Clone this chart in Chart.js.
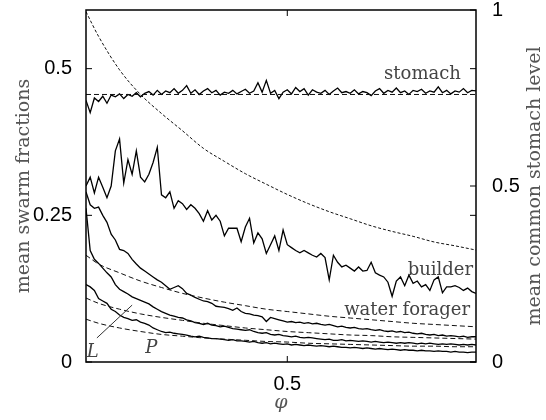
<!DOCTYPE HTML>
<html>

<head>
  <title>swarm fractions</title>
  <script src="https://cdn.jsdelivr.net/npm/chart.js"></script>
  <style>
    body { margin: 0; background: #fff; }
    #box { width: 546px; height: 420px; }
  </style>
</head>

<body>
  <div id="box"><canvas id="myChart"></canvas></div>

  <script type="text/javascript">

    // phi grid of the simulation runs
    var phi = [0.02, 0.03, 0.04, 0.05, 0.06, 0.07, 0.08, 0.09, 0.10, 0.11,
      0.12, 0.13, 0.14, 0.15, 0.16, 0.17, 0.18, 0.19, 0.20, 0.21,
      0.22, 0.23, 0.24, 0.25, 0.26, 0.27, 0.28, 0.29, 0.30, 0.31,
      0.32, 0.33, 0.34, 0.35, 0.36, 0.37, 0.38, 0.39, 0.40, 0.41,
      0.42, 0.43, 0.44, 0.45, 0.46, 0.47, 0.48, 0.49, 0.50, 0.51,
      0.52, 0.53, 0.54, 0.55, 0.56, 0.57, 0.58, 0.59, 0.60, 0.61,
      0.62, 0.63, 0.64, 0.65, 0.66, 0.67, 0.68, 0.69, 0.70, 0.71,
      0.72, 0.73, 0.74, 0.75, 0.76, 0.77, 0.78, 0.79, 0.80, 0.81,
      0.82, 0.83, 0.84, 0.85, 0.86, 0.87, 0.88, 0.89, 0.90, 0.91,
      0.92, 0.93, 0.94, 0.95];

    var stomach = [0.446, 0.425, 0.450, 0.444, 0.453, 0.441, 0.455, 0.452, 0.457, 0.449,
      0.456, 0.453, 0.459, 0.452, 0.458, 0.461, 0.455, 0.463, 0.456, 0.462,
      0.459, 0.466, 0.458, 0.463, 0.471, 0.458, 0.464, 0.456, 0.462, 0.466,
      0.459, 0.463, 0.455, 0.460, 0.458, 0.463, 0.457, 0.461, 0.465, 0.458,
      0.462, 0.476, 0.460, 0.480, 0.458, 0.463, 0.449, 0.460, 0.464, 0.457,
      0.468, 0.461, 0.466, 0.455, 0.464, 0.460, 0.458, 0.463, 0.456, 0.462,
      0.467, 0.459, 0.461, 0.458, 0.464, 0.457, 0.461, 0.459, 0.454, 0.462,
      0.466, 0.458, 0.463, 0.460, 0.467, 0.459, 0.462, 0.456, 0.463, 0.461,
      0.465, 0.458, 0.462, 0.460, 0.469, 0.459, 0.463, 0.457, 0.462, 0.460,
      0.466, 0.459, 0.463, 0.462];

    var builder = [0.300, 0.315, 0.288, 0.315, 0.298, 0.280, 0.300, 0.360, 0.380, 0.305,
      0.345, 0.320, 0.360, 0.315, 0.307, 0.320, 0.340, 0.366, 0.285, 0.280,
      0.290, 0.262, 0.275, 0.270, 0.260, 0.268, 0.262, 0.253, 0.240, 0.258,
      0.242, 0.250, 0.240, 0.215, 0.228, 0.228, 0.228, 0.205, 0.230, 0.245,
      0.203, 0.220, 0.210, 0.185, 0.200, 0.215, 0.190, 0.225, 0.200, 0.195,
      0.190, 0.186, 0.190, 0.186, 0.182, 0.179, 0.185, 0.178, 0.140, 0.182,
      0.170, 0.162, 0.165, 0.160, 0.155, 0.162, 0.155, 0.156, 0.170, 0.152,
      0.148, 0.145, 0.136, 0.112, 0.138, 0.145, 0.130, 0.148, 0.134, 0.138,
      0.128, 0.132, 0.122, 0.140, 0.145, 0.118, 0.128, 0.128, 0.130, 0.127,
      0.122, 0.126, 0.120, 0.117];

    var waterForager = [0.290, 0.268, 0.262, 0.264, 0.250, 0.238, 0.218, 0.208, 0.192, 0.190,
      0.185, 0.175, 0.167, 0.160, 0.155, 0.150, 0.145, 0.140, 0.136, 0.130,
      0.124, 0.127, 0.130, 0.125, 0.117, 0.114, 0.110, 0.107, 0.104, 0.103,
      0.100, 0.095, 0.094, 0.093, 0.091, 0.088, 0.092, 0.086, 0.083, 0.082,
      0.080, 0.079, 0.077, 0.069, 0.076, 0.074, 0.072, 0.070, 0.068, 0.069,
      0.067, 0.068, 0.066, 0.067, 0.065, 0.066, 0.064, 0.063, 0.064, 0.062,
      0.060, 0.061, 0.059, 0.058, 0.059, 0.057, 0.056, 0.057, 0.055, 0.054,
      0.055, 0.053, 0.052, 0.053, 0.051, 0.052, 0.050, 0.051, 0.049, 0.048,
      0.049, 0.047, 0.046, 0.047, 0.045, 0.046, 0.044, 0.045, 0.044, 0.043,
      0.044, 0.042, 0.043, 0.043];

    var fracL = [0.262, 0.190, 0.175, 0.168, 0.160, 0.152, 0.145, 0.132, 0.124, 0.120,
      0.116, 0.111, 0.108, 0.105, 0.102, 0.099, 0.094, 0.090, 0.086, 0.083,
      0.080, 0.078, 0.076, 0.075, 0.072, 0.070, 0.067, 0.066, 0.064, 0.066,
      0.063, 0.062, 0.060, 0.061, 0.059, 0.057, 0.056, 0.055, 0.054, 0.055,
      0.052, 0.050, 0.049, 0.050, 0.047, 0.046, 0.047, 0.045, 0.044, 0.043,
      0.044, 0.042, 0.041, 0.042, 0.041, 0.040, 0.039, 0.038, 0.039, 0.037,
      0.037, 0.038, 0.036, 0.037, 0.036, 0.035, 0.036, 0.035, 0.034, 0.035,
      0.034, 0.033, 0.034, 0.033, 0.032, 0.033, 0.032, 0.033, 0.032, 0.031,
      0.032, 0.031, 0.032, 0.031, 0.030, 0.031, 0.030, 0.031, 0.030, 0.029,
      0.030, 0.029, 0.030, 0.029];

    var fracP = [0.132, 0.128, 0.122, 0.108, 0.104, 0.100, 0.090, 0.086, 0.080, 0.076,
      0.074, 0.071, 0.072, 0.068, 0.066, 0.063, 0.058, 0.055, 0.052, 0.050,
      0.051, 0.049, 0.048, 0.047, 0.046, 0.044, 0.043, 0.044, 0.042, 0.041,
      0.040, 0.040, 0.039, 0.038, 0.037, 0.038, 0.036, 0.036, 0.035, 0.034,
      0.035, 0.033, 0.032, 0.033, 0.031, 0.032, 0.031, 0.030, 0.031, 0.029,
      0.030, 0.029, 0.028, 0.029, 0.028, 0.027, 0.028, 0.027, 0.026, 0.027,
      0.026, 0.025, 0.025, 0.024, 0.025, 0.024, 0.023, 0.024, 0.023, 0.022,
      0.023, 0.022, 0.021, 0.022, 0.021, 0.020, 0.021, 0.020, 0.020, 0.019,
      0.020, 0.019, 0.019, 0.018, 0.019, 0.018, 0.018, 0.017, 0.018, 0.017,
      0.017, 0.016, 0.017, 0.017];

    // model curves (dashed)
    var phiModel = [0.02, 0.05, 0.10, 0.15, 0.20, 0.25, 0.30, 0.35, 0.40, 0.45,
      0.50, 0.55, 0.60, 0.65, 0.70, 0.75, 0.80, 0.85, 0.90, 0.95];
    var stomachLevel = [0.995, 0.925, 0.830, 0.760, 0.706, 0.657, 0.607, 0.570, 0.535, 0.505,
      0.476, 0.450, 0.427, 0.407, 0.387, 0.371, 0.357, 0.341, 0.330, 0.318];
    var waterModel = [0.182, 0.167, 0.152, 0.138, 0.127, 0.117, 0.109, 0.102, 0.096, 0.090,
      0.086, 0.082, 0.078, 0.075, 0.072, 0.069, 0.066, 0.064, 0.062, 0.060];
    var lModel = [0.109, 0.100, 0.090, 0.082, 0.076, 0.071, 0.066, 0.062, 0.058, 0.055,
      0.052, 0.050, 0.048, 0.046, 0.045, 0.043, 0.042, 0.041, 0.040, 0.039];
    var pModel = [0.073, 0.066, 0.058, 0.052, 0.047, 0.044, 0.041, 0.039, 0.037, 0.035,
      0.034, 0.032, 0.031, 0.030, 0.029, 0.028, 0.027, 0.027, 0.026, 0.026];
    var phiEnds = [0.02, 0.95];
    var stomachModel = [0.456, 0.456];

    // ticks
    var xTicks = [0.5];
    var yTicks = [0, 0.25, 0.5];
    var y2Ticks = [0, 0.5, 1];

    // curve labels (phi of right end, fraction of baseline)
    var labelText = ['stomach', 'builder', 'water forager'];
    var labelPhi = [0.914, 0.943, 0.936];
    var labelVal = [0.483, 0.148, 0.080];

    function pts(xs, ys) {
      return xs.map((x, i) => ({ x: x, y: ys[i] }));
    }

    function solid(d) {
      return { data: d, borderColor: '#000', borderWidth: 1.3, pointRadius: 0, tension: 0, yAxisID: 'y' };
    }
    function dashed(d, axis, dash) {
      return {
        data: d, borderColor: '#111', borderWidth: 1, borderDash: dash, pointRadius: 0,
        cubicInterpolationMode: 'monotone', yAxisID: axis
      };
    }

    var framePlugin = {
      id: 'framePlugin',
      afterDatasetsDraw: function (chart) {
        var ctx = chart.ctx;
        var a = chart.chartArea;
        var sx = chart.scales.x, sy = chart.scales.y, sy2 = chart.scales.y2;
        ctx.save();
        ctx.strokeStyle = '#000';
        ctx.lineWidth = 1.5;
        ctx.strokeRect(a.left, a.top, a.right - a.left, a.bottom - a.top);

        ctx.lineWidth = 1;
        ctx.beginPath();
        xTicks.forEach(v => {
          var p = sx.getPixelForValue(v);
          ctx.moveTo(p, a.bottom); ctx.lineTo(p, a.bottom - 6);
          ctx.moveTo(p, a.top); ctx.lineTo(p, a.top + 6);
        });
        yTicks.forEach(v => {
          var p = sy.getPixelForValue(v);
          ctx.moveTo(a.left, p); ctx.lineTo(a.left + 6, p);
          ctx.moveTo(a.right, p); ctx.lineTo(a.right - 6, p);
        });
        y2Ticks.forEach(v => {
          var p = sy2.getPixelForValue(v);
          ctx.moveTo(a.right, p); ctx.lineTo(a.right - 6, p);
        });
        ctx.stroke();

        // curve labels
        ctx.fillStyle = '#444';
        ctx.font = '18px "DejaVu Serif"';
        ctx.textAlign = 'right';
        ctx.textBaseline = 'alphabetic';
        labelText.forEach((t, i) => {
          ctx.fillText(t, sx.getPixelForValue(labelPhi[i]), sy.getPixelForValue(labelVal[i]));
        });

        // L and P marks
        ctx.font = 'italic 18px "DejaVu Serif"';
        ctx.textAlign = 'left';
        ctx.fillText('L', sx.getPixelForValue(0.022), sy.getPixelForValue(0.0085));
        ctx.fillText('P', sx.getPixelForValue(0.161), sy.getPixelForValue(0.015));
        ctx.strokeStyle = '#333';
        ctx.beginPath();
        ctx.moveTo(sx.getPixelForValue(0.046), sy.getPixelForValue(0.041));
        ctx.lineTo(sx.getPixelForValue(0.13), sy.getPixelForValue(0.097));
        ctx.stroke();

        // right axis title, read from bottom to top
        ctx.translate(a.right + 59, (a.top + a.bottom) / 2);
        ctx.rotate(-Math.PI / 2);
        ctx.font = '19px "DejaVu Serif"';
        ctx.fillStyle = '#555';
        ctx.textAlign = 'center';
        ctx.textBaseline = 'middle';
        ctx.fillText('mean common stomach level', 0, 0);
        ctx.restore();
      }
    };

    var tickFont = { family: '"Liberation Sans", Arial', size: 20 };
    var titleFont = { family: '"DejaVu Serif"', size: 19 };
    var plain = v => String(v);

    function fitV(w) {
      return s => { s.width = w; s.paddingTop = 0; s.paddingBottom = 0; };
    }

    var myChart = new Chart(document.getElementById('myChart'), {
      type: 'line',
      data: {
        datasets: [
          dashed(pts(phiModel, stomachLevel), 'y2', [3, 2]),
          dashed(pts(phiEnds, stomachModel), 'y', [5, 3]),
          dashed(pts(phiModel, waterModel), 'y', [5, 3]),
          dashed(pts(phiModel, lModel), 'y', [5, 3]),
          dashed(pts(phiModel, pModel), 'y', [5, 3]),
          solid(pts(phi, stomach)),
          solid(pts(phi, builder)),
          solid(pts(phi, waterForager)),
          solid(pts(phi, fracL)),
          solid(pts(phi, fracP)),
        ],
      },
      options: {
        responsive: true,
        maintainAspectRatio: false,
        animation: false,
        events: [],
        layout: { padding: { top: 10, left: 0, right: 0, bottom: 0 } },
        plugins: { legend: { display: false }, tooltip: { enabled: false } },
        scales: {
          x: {
            type: 'linear', min: 0.02, max: 0.95,
            afterBuildTicks: s => { s.ticks = xTicks.map(v => ({ value: v })); },
            afterFit: s => { s.height = 58; s.paddingLeft = 0; s.paddingRight = 0; },
            grid: { display: false, drawTicks: false },
            border: { display: false },
            ticks: { color: '#000', font: tickFont, padding: 10, maxRotation: 0, callback: plain },
            title: { display: true, text: 'φ', color: '#555', padding: { top: 0, bottom: 6 },
              font: { family: '"DejaVu Serif"', size: 19, style: 'italic' } }
          },
          y: {
            position: 'left', min: 0, max: 0.6,
            afterBuildTicks: s => { s.ticks = yTicks.map(v => ({ value: v })); },
            afterFit: fitV(86),
            grid: { display: false, drawTicks: false },
            border: { display: false },
            ticks: { color: '#000', font: tickFont, padding: 14, callback: plain },
            title: { display: true, text: 'mean swarm fractions', color: '#555', font: titleFont, padding: { top: 13, bottom: 0 } }
          },
          y2: {
            position: 'right', min: 0, max: 1,
            afterBuildTicks: s => { s.ticks = y2Ticks.map(v => ({ value: v })); },
            afterFit: fitV(70),
            grid: { display: false, drawTicks: false },
            border: { display: false },
            ticks: { color: '#000', font: tickFont, padding: 16, callback: plain }
          }
        }
      },
      plugins: [framePlugin]
    });

  </script>
</body>

</html>
